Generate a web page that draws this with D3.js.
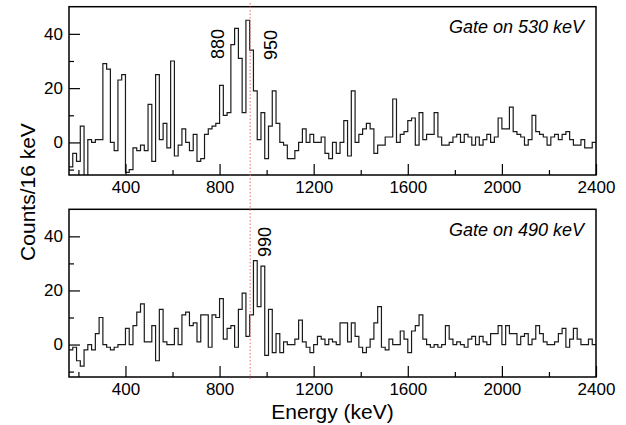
<!DOCTYPE html>
<html>
<head>
<meta charset="utf-8">
<script src="https://cdn.jsdelivr.net/npm/d3@7"></script>
<style>
body { margin: 0; background: #fff; }
svg { display: block; }
text { font-family: "Liberation Sans", Arial, Helvetica, sans-serif; }
</style>
</head>
<body>
<svg id="chart" width="626" height="425"></svg>
<script>
// 16 keV bins starting at 160 keV
var binStart = 160, binWidth = 16;

var gate530 = [
	-9, -4, -7, 6, -14, 1, 0, 1, 1, 29,
	27, 0, -3, 23, 25, -11, -10, -2, -3, -1,
	-3, 14, -7, 25, 1, 7, -2, 30, -5, -1,
	5, 0, -3, 3, -7, -6, 3, 5, 6, 7,
	21, 10, 11, 36, 42, 31, 11, 45, 34, 19,
	1, 11, -6, 6, 19, 7, 0, -1, -6, -6,
	-3, 0, 5, 0, 3, 0, 0, 2, -4, -6,
	0, -4, 0, 8, -5, 19, 0, 3, 5, 7,
	5, -4, -1, -1, 2, 2, 16, 0, 3, 4,
	8, 9, -1, 11, 1, 3, 3, 11, 2, -1,
	-1, 0, 2, 3, 0, 3, 2, -1, 2, -1,
	1, 3, 0, 2, 9, 5, 5, 13, 4, 3,
	2, -1, 1, 10, 4, 3, 2, -1, 2, 3,
	1, 3, 4, 1, -1, -1, 1, -2, -2, 0
];

var gate490 = [
	-2, -1, -6, -8, -2, 0, -2, 4, 10, 0,
	-1, -2, -1, 0, 0, 6, 0, 7, 12, 15,
	1, 1, 7, -6, 13, 1, 0, 0, 6, 0,
	11, 12, 7, 8, 1, 11, 11, -1, 11, 10,
	17, 2, 6, 7, -1, 13, 19, 3, 11, 31,
	14, 29, -4, 13, -3, 4, -3, 1, 0, 0,
	2, 9, 1, -1, -3, 0, 3, 2, 0, 2,
	1, 0, 8, 8, 1, 8, 3, -1, -3, -1,
	2, 8, 14, -1, -2, 2, 0, 0, 5, 2,
	-3, 5, 7, 11, 2, 0, -1, 0, -1, 0,
	7, 2, 0, 1, 0, -1, 2, 3, 0, 3,
	1, 0, 4, 4, 7, 0, 7, 4, 4, 0,
	3, 4, 0, 2, 7, 4, 1, 0, 0, 1,
	4, 6, -1, 2, 6, 2, 0, 0, 2, 0
];

var gateTitles = ["Gate on 530 keV", "Gate on 490 keV"];
var peakNames = [["880", "950"], ["990"]];
var xMajor = [400, 800, 1200, 1600, 2000, 2400];
var xMinor = [200, 600, 1000, 1400, 1800, 2200];
var yMajor = [0, 20, 40];
var yMinor = [-10, 10, 30];
var refEnergy = 930;

// layout
var left = 69, right = 596;
var panelTop = [6.7, 209.3], panelBottom = [175, 377];
var peakAt = [[[224, 44], [277, 45]], [[271, 242]]];

var svg = d3.select("#chart");
var x = d3.scaleLinear().domain([160, 2400]).range([left, right]);

[gate530, gate490].forEach(function(data, p) {
	var top = panelTop[p], bottom = panelBottom[p];
	var y = d3.scaleLinear().domain([-12, 50]).range([bottom, top]);
	var g = svg.append("g");

	g.append("clipPath").attr("id", "clip" + p)
		.append("rect").attr("x", left).attr("y", top)
		.attr("width", right - left).attr("height", bottom - top);

	var pts = data.map(function(v, i) { return [binStart + i * binWidth, v]; });
	pts.push([binStart + data.length * binWidth, data[data.length - 1]]);
	var line = d3.line()
		.x(function(d) { return x(d[0]); })
		.y(function(d) { return y(d[1]); })
		.curve(d3.curveStepAfter);
	g.append("path").datum(pts)
		.attr("d", line)
		.attr("clip-path", "url(#clip" + p + ")")
		.attr("fill", "none").attr("stroke", "#1a1a1a").attr("stroke-width", 1.2);

	g.append("g").attr("transform", "translate(0," + bottom + ")")
		.call(d3.axisBottom(x).tickValues(xMajor).tickSize(-11).tickPadding(6).tickFormat(d3.format("d")));
	g.append("g").attr("transform", "translate(0," + bottom + ")")
		.call(d3.axisBottom(x).tickValues(xMinor).tickSize(-5).tickFormat(""));
	g.append("g").attr("transform", "translate(" + left + ",0)")
		.call(d3.axisLeft(y).tickValues(yMajor).tickSize(-11).tickPadding(6));
	g.append("g").attr("transform", "translate(" + left + ",0)")
		.call(d3.axisLeft(y).tickValues(yMinor).tickSize(-5).tickFormat(""));

	g.selectAll(".domain").remove();
	g.selectAll(".tick line").attr("stroke", "#000").attr("stroke-width", 1.2);
	g.selectAll(".tick text").attr("font-size", 17).attr("fill", "#000")
		.attr("font-family", "Liberation Sans, Arial, sans-serif");

	g.append("rect").attr("x", left).attr("y", top)
		.attr("width", right - left).attr("height", bottom - top)
		.attr("fill", "none").attr("stroke", "#000").attr("stroke-width", 1.5);

	g.append("text").attr("x", 584).attr("y", top + 26.5)
		.attr("text-anchor", "end").attr("font-size", 18).attr("font-style", "italic")
		.text(gateTitles[p]);

	peakNames[p].forEach(function(name, k) {
		g.append("text")
			.attr("transform", "translate(" + peakAt[p][k][0] + "," + peakAt[p][k][1] + ") rotate(-90)")
			.attr("text-anchor", "middle").attr("font-size", 18)
			.text(name);
	});
});

// reference line across both panels
svg.append("line")
	.attr("x1", x(refEnergy)).attr("x2", x(refEnergy))
	.attr("y1", 3).attr("y2", 381)
	.attr("stroke", "#ee6b6b").attr("stroke-width", 1).attr("stroke-dasharray", "1.5,2");

svg.append("text").attr("x", (left + right) / 2).attr("y", 419)
	.attr("text-anchor", "middle").attr("font-size", 21)
	.text("Energy (keV)");

svg.append("text").attr("transform", "translate(35,192) rotate(-90)")
	.attr("text-anchor", "middle").attr("font-size", 21)
	.text("Counts/16 keV");
</script>
</body>
</html>
